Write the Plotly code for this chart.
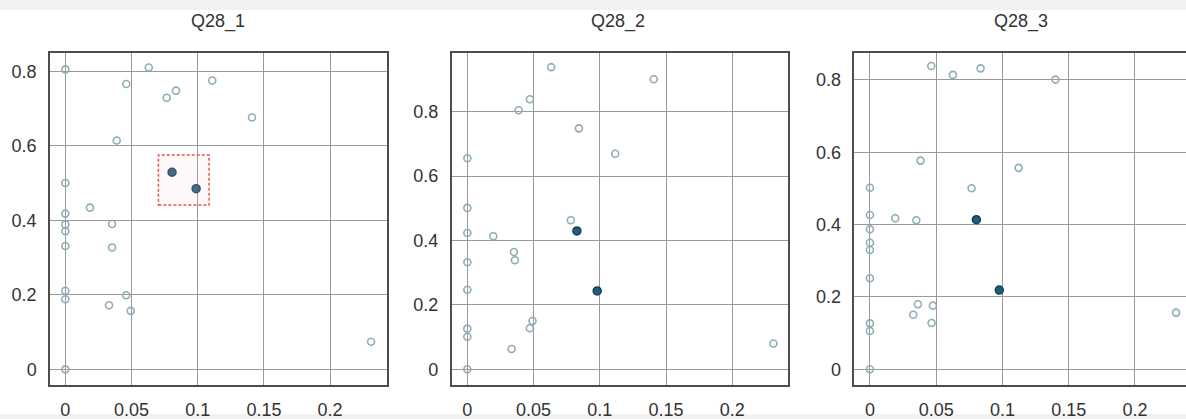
import plotly.graph_objects as go

titles = ["Q28_1", "Q28_2", "Q28_3"]

# light (open) points per panel
q1_x = [0, 0.063, 0.046, 0.0766, 0.0836, 0.111, 0.141, 0.0388, 0, 0.0186, 0, 0, 0, 0.0353, 0, 0.0353,
        0, 0, 0.046, 0.033, 0.0494, 0.231, 0]
q1_y = [0.805, 0.81, 0.766, 0.729, 0.748, 0.775, 0.676, 0.614, 0.5, 0.434, 0.418, 0.389, 0.371, 0.39, 0.331, 0.327,
        0.211, 0.188, 0.199, 0.172, 0.157, 0.074, 0]
q1_hx = [0.0806, 0.0988]
q1_hy = [0.529, 0.485]

q2_x = [0.0633, 0.1407, 0.0472, 0.0387, 0.0842, 0.1116, 0, 0, 0, 0.0196, 0.0781, 0.0352, 0.0359, 0, 0,
        0.0492, 0.0472, 0, 0, 0.0334, 0.231, 0]
q2_y = [0.938, 0.9006, 0.8385, 0.804, 0.748, 0.669, 0.655, 0.501, 0.423, 0.413, 0.4627, 0.364, 0.3385, 0.332, 0.247,
        0.150, 0.127, 0.126, 0.101, 0.063, 0.0797, 0]
q2_hx = [0.0827, 0.098]
q2_hy = [0.4296, 0.243]

q3_x = [0.0463, 0.0835, 0.0626, 0.140, 0.0382, 0.1122, 0.0767, 0, 0, 0.0191, 0.035, 0, 0, 0, 0,
        0.0362, 0.0475, 0.0327, 0.0465, 0, 0, 0.231, 0]
q3_y = [0.8387, 0.832, 0.814, 0.801, 0.577, 0.557, 0.5005, 0.502, 0.4267, 0.4175, 0.412, 0.387, 0.350, 0.330, 0.2516,
        0.1797, 0.176, 0.151, 0.128, 0.127, 0.106, 0.1567, 0]
q3_hx = [0.0803, 0.0976]
q3_hy = [0.4138, 0.219]

x_ticks = [0, 0.05, 0.1, 0.15, 0.2]
x_labels = ["0", "0.05", "0.1", "0.15", "0.2"]
y_ticks = [0, 0.2, 0.4, 0.6, 0.8]
y_labels = ["0", "0.2", "0.4", "0.6", "0.8"]

# highlight box in panel 1
box_x = [0.0703, 0.1086]
box_y = [0.441, 0.575]

W, H = 1186, 419
panels = [
    dict(px=(50, 387), xr=[-0.0116, 0.243], yr=[-0.042, 0.849]),
    dict(px=(451.7, 788), xr=[-0.0118, 0.242], yr=[-0.049, 0.982]),
    dict(px=(854.3, 1186), xr=[-0.0118, 0.2385], yr=[-0.0434, 0.8745]),
]
title_cx = [218, 618, 1021]
top_px, bot_px = 53, 385
ydom = [1 - bot_px / H, 1 - top_px / H]

data = [(q1_x, q1_y, q1_hx, q1_hy), (q2_x, q2_y, q2_hx, q2_hy), (q3_x, q3_y, q3_hx, q3_hy)]

fig = go.Figure()
light = "#90acb6"
font = "Liberation Sans, Arial, sans-serif"

for i, (lx, ly, hx, hy) in enumerate(data):
    s = "" if i == 0 else str(i + 1)
    fig.add_trace(go.Scatter(x=lx, y=ly, mode="markers", xaxis="x" + s, yaxis="y" + s,
                             marker=dict(symbol="circle-open", size=7, color=light, line=dict(width=1.6)),
                             showlegend=False))
    fig.add_trace(go.Scatter(x=hx, y=hy, mode="markers", xaxis="x" + s, yaxis="y" + s,
                             marker=dict(symbol="circle", size=8, color="#1f5d7c",
                                         line=dict(width=1.5, color="#133f57")),
                             showlegend=False))

layout = dict(width=W, height=H, margin=dict(l=0, r=0, t=0, b=0),
              paper_bgcolor="white", plot_bgcolor="white", showlegend=False)
axstyle = dict(showline=True, mirror=True, linecolor="#4d4d4d", linewidth=1.5,
               showgrid=True, gridcolor="#999999", gridwidth=1, zeroline=False,
               ticks="", automargin=False)
for i, p in enumerate(panels):
    s = "" if i == 0 else str(i + 1)
    xd = [p["px"][0] / W, min(1.0, p["px"][1] / W)]
    layout["xaxis" + s] = dict(domain=xd, range=p["xr"], anchor="y" + s, tickvals=x_ticks,
                               ticktext=x_labels, ticklabelstandoff=8,
                               tickfont=dict(family=font, size=18, color="#333333"), **axstyle)
    layout["yaxis" + s] = dict(domain=ydom, range=p["yr"], anchor="x" + s, tickvals=y_ticks,
                               ticktext=y_labels, ticklabelstandoff=8,
                               tickfont=dict(family=font, size=18, color="#333333"), **axstyle)
layout["annotations"] = [
    dict(text=titles[i], x=title_cx[i] / W, y=1 - 21 / H, xref="paper", yref="paper", showarrow=False,
         font=dict(family=font, size=18, color="#333333"), xanchor="center", yanchor="middle")
    for i in range(3)
]
layout["shapes"] = [
    dict(type="rect", xref="paper", yref="paper", x0=0, x1=1, y0=1 - 10 / H, y1=1,
         fillcolor="#f1f1f1", line=dict(width=0), layer="below"),
    dict(type="rect", xref="paper", yref="paper", x0=0, x1=1, y0=0, y1=5 / H,
         fillcolor="#f1f1f1", line=dict(width=0), layer="below"),
    dict(type="rect", xref="x", yref="y", x0=box_x[0], x1=box_x[1], y0=box_y[0], y1=box_y[1],
         fillcolor="rgba(255,210,210,0.15)", line=dict(color="#e05a4a", width=1.5, dash="3px,2px")),
]
fig.update_layout(**layout)
fig.write_html("out.html", config={"displayModeBar": False},
               post_script="document.body.style.margin='0';document.body.style.overflow='hidden';")
